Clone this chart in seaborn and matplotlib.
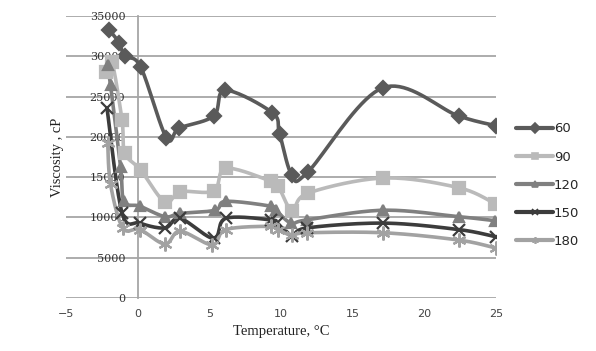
import numpy as np
import pandas as pd
import matplotlib
matplotlib.use('Agg')
import matplotlib.pyplot as plt
from matplotlib.lines import Line2D
import seaborn as sns

# series (temperature in C, viscosity in cP)
t_60 = [-2.0, -1.3, -0.9, 0.2, 2.0, 2.9, 5.3, 6.1, 9.4, 9.9, 10.75, 11.85, 17.1, 22.4, 25.0]
v_60 = [33300, 31700, 30000, 28700, 19900, 21100, 22600, 25800, 23000, 20400, 15300, 15600, 26100, 22600, 21400]

t_90 = [-2.2, -1.8, -1.1, -0.9, 0.2, 1.9, 2.95, 5.3, 6.15, 9.3, 9.8, 10.8, 11.85, 17.15, 22.4, 24.95]
v_90 = [28100, 29300, 22100, 18000, 15900, 11900, 13200, 13300, 16100, 14500, 13900, 10800, 13000, 14900, 13700, 11700]

t_120 = [-2.1, -1.9, -1.2, -0.95, 0.15, 1.9, 2.95, 5.4, 6.15, 9.3, 9.65, 10.7, 11.8, 17.15, 22.4, 24.95]
v_120 = [28900, 26400, 16300, 12000, 11400, 10100, 10500, 10900, 12000, 11400, 10900, 9300, 9700, 10900, 10100, 9600]

t_150 = [-2.15, -1.1, 0.15, 1.9, 2.95, 5.3, 6.15, 9.3, 9.75, 10.75, 11.8, 17.15, 22.4, 25.0]
v_150 = [23600, 10600, 9300, 8700, 9900, 7400, 9900, 9700, 9300, 7700, 8700, 9300, 8500, 7600]

t_180 = [-2.1, -1.9, -1.05, 0.15, 1.9, 2.95, 5.2, 6.15, 9.3, 9.8, 10.75, 11.8, 17.15, 22.4, 25.0]
v_180 = [19200, 14100, 8700, 8500, 6700, 8300, 6600, 8500, 8900, 8500, 7800, 8100, 8100, 7200, 6200]

labels = ['60', '90', '120', '150', '180']
temps = [t_60, t_90, t_120, t_150, t_180]
visc = [v_60, v_90, v_120, v_150, v_180]
colors = ['#5a5a5a', '#bababa', '#808080', '#3c3c3c', '#a2a2a2']
markers = ['D', 's', '^', 'x', (6, 2, 0)]
msizes = [7, 8, 7, 8, 10]


def smooth(x, y, n=20):
    # Excel-style smoothed line: cubic bezier through the points
    sx, sy = 14.32, 0.00806  # data -> pixel scale so the curve bends like in the chart
    p = np.column_stack([np.array(x) * sx, np.array(y) * sy])
    out = [p[0]]
    for i in range(len(p) - 1):
        p0 = p[i - 1] if i > 0 else p[i]
        p3 = p[i + 2] if i + 2 < len(p) else p[i + 1]
        c1 = p[i] + (p[i + 1] - p0) / 6
        c2 = p[i + 1] - (p3 - p[i]) / 6
        s = np.linspace(0, 1, n)[1:, None]
        seg = ((1 - s) ** 3 * p[i] + 3 * (1 - s) ** 2 * s * c1
               + 3 * (1 - s) * s ** 2 * c2 + s ** 3 * p[i + 1])
        out.extend(seg)
    out = np.array(out)
    return out[:, 0] / sx, out[:, 1] / sy


sns.set_theme(style='white')
fig = plt.figure(figsize=(5.96, 3.51), dpi=100)
ax = fig.add_axes([0.111, 0.151, 0.721, 0.803])

handles = []
for lab, t, v, c, m, ms in zip(labels, temps, visc, colors, markers, msizes):
    cx, cy = smooth(t, v)
    curve = pd.DataFrame({'T': cx, 'V': cy})
    sns.lineplot(data=curve, x='T', y='V', sort=False, estimator=None,
                 color=c, lw=2.6, ax=ax, zorder=3)
    ax.plot(t, v, ls='none', marker=m, ms=ms, color=c, mec=c, mew=1.6, zorder=4)
    handles.append(Line2D([], [], color=c, lw=3, marker=m, ms=5, mew=1.2))

ax.set_xlim(-5, 25)
ax.set_ylim(0, 35000)
ax.set_xticks([-5, 0, 5, 10, 15, 20, 25])
ax.set_yticks(np.arange(0, 35001, 5000))
ax.yaxis.grid(True, color='#a6a6a6', lw=1.3)
ax.xaxis.grid(False)
for s in ['top', 'right', 'bottom']:
    ax.spines[s].set_visible(False)
ax.spines['left'].set_position(('data', 0))
ax.spines['left'].set_color('#a6a6a6')
ax.spines['left'].set_linewidth(1.3)
ax.tick_params(axis='both', length=0)
ax.tick_params(axis='y', pad=9)
ax.tick_params(axis='x', pad=8)
for lbl in ax.get_yticklabels():
    lbl.set_fontfamily('DejaVu Serif')
    lbl.set_fontsize(8)
    lbl.set_color('#333333')
for lbl in ax.get_xticklabels():
    lbl.set_fontsize(8)
    lbl.set_color('#444444')

ax.set_xlabel('Temperature, °C', family='Liberation Serif', fontsize=10.5, color='#222222', labelpad=4)
ax.set_ylabel('Viscosity , cP', family='Liberation Serif', fontsize=10.5, color='#222222', labelpad=0)
ax.yaxis.set_label_coords(-0.005, 0.5)

ax.legend(handles, labels, loc='center left', bbox_to_anchor=(1.02, 0.40), frameon=False,
          fontsize=9.5, handlelength=2.8, handletextpad=0.05, labelspacing=1.15)

fig.savefig('out.png', dpi=100)
